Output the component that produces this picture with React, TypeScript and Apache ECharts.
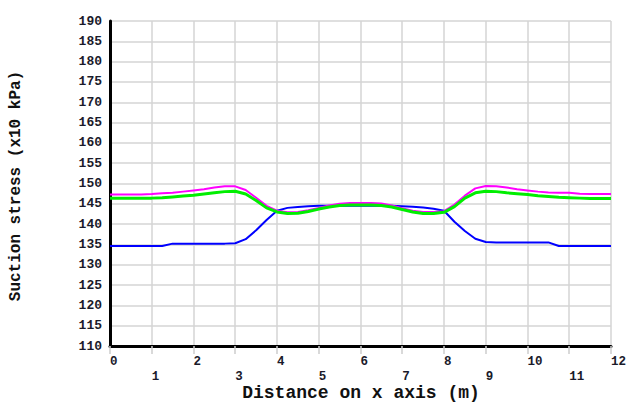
import React, { useEffect, useRef } from "react";
import * as echarts from "echarts";

const xs = [0, 0.25, 0.5, 0.75, 1, 1.25, 1.5, 1.75, 2, 2.25, 2.5, 2.75, 3, 3.25, 3.5, 3.75, 4, 4.25, 4.5, 4.75, 5, 5.25, 5.5, 5.75, 6, 6.25, 6.5, 6.75, 7, 7.25, 7.5, 7.75, 8, 8.25, 8.5, 8.75, 9, 9.25, 9.5, 9.75, 10, 10.25, 10.5, 10.75, 11, 11.25, 11.5, 11.75, 12];

const magentaVals = [147.3, 147.3, 147.3, 147.3, 147.4, 147.6, 147.7, 148.0, 148.3, 148.6, 149.0, 149.3, 149.3, 148.4, 146.5, 144.5, 143.3, 142.9, 143.0, 143.4, 144.0, 144.6, 145.0, 145.2, 145.2, 145.2, 145.1, 144.6, 143.9, 143.3, 143.0, 143.0, 143.2, 144.8, 147.0, 148.8, 149.4, 149.3, 149.0, 148.6, 148.3, 148.0, 147.8, 147.7, 147.7, 147.5, 147.4, 147.4, 147.4];

const greenVals = [146.4, 146.4, 146.4, 146.4, 146.4, 146.5, 146.7, 146.9, 147.1, 147.4, 147.7, 148.0, 148.1, 147.4, 145.8, 144.0, 143.0, 142.6, 142.7, 143.1, 143.7, 144.2, 144.6, 144.7, 144.7, 144.7, 144.6, 144.2, 143.6, 143.0, 142.6, 142.6, 142.9, 144.3, 146.4, 147.7, 148.1, 148.0, 147.7, 147.5, 147.3, 147.0, 146.8, 146.6, 146.5, 146.4, 146.3, 146.3, 146.3];

const blueVals = [134.6, 134.6, 134.6, 134.6, 134.6, 134.6, 135.2, 135.2, 135.2, 135.2, 135.2, 135.2, 135.3, 136.3, 138.5, 141.0, 143.3, 144.0, 144.2, 144.4, 144.5, 144.5, 144.5, 144.5, 144.5, 144.5, 144.5, 144.5, 144.4, 144.3, 144.1, 143.8, 143.3, 140.6, 138.3, 136.4, 135.6, 135.5, 135.5, 135.5, 135.5, 135.5, 135.5, 134.6, 134.6, 134.6, 134.6, 134.6, 134.6];

const xTitle = "Distance on x axis (m)";
const yTitle = "Suction stress (x10 kPa)";

const toPairs = (vals: number[]) => xs.map((x, i) => [x, vals[i]]);

export default function App() {
  const ref = useRef<HTMLDivElement>(null);
  useEffect(() => {
    if (!ref.current) return;
    const chart = echarts.init(ref.current, undefined, { renderer: "svg" });
    const labelColor = "#1a1a2a";
    chart.setOption({
      animation: false,
      backgroundColor: "#ffffff",
      grid: { left: 110, right: 15, top: 21, bottom: 56, containLabel: false },
      xAxis: {
        type: "value",
        min: 0,
        max: 12,
        interval: 1,
        axisLine: { show: true, onZero: false, lineStyle: { color: "#000", width: 3 } },
        axisTick: { show: true, length: 8, lineStyle: { color: "#cccccc", width: 1.5 } },
        splitLine: { show: true, lineStyle: { color: "#d4d4d4", width: 1.5 } },
        axisLabel: {
          align: "left",
          margin: 8,
          lineHeight: 15,
          color: labelColor,
          fontFamily: "Liberation Mono",
          fontWeight: "bold",
          fontSize: 12.5,
          showMinLabel: true,
          showMaxLabel: true,
          formatter: (v: number) => (Math.round(v) % 2 === 0 ? String(v) : "\n" + v),
        },
      },
      yAxis: {
        type: "value",
        min: 110,
        max: 190,
        interval: 5,
        axisLine: { show: true, onZero: false, lineStyle: { color: "#000", width: 3 } },
        axisTick: { show: false },
        splitLine: { show: true, lineStyle: { color: "#d4d4d4", width: 1.5 } },
        axisLabel: {
          margin: 8,
          color: labelColor,
          fontFamily: "Liberation Mono",
          fontWeight: "bold",
          fontSize: 13,
        },
      },
      graphic: [
        {
          type: "text",
          x: 361,
          y: 393,
          style: {
            text: xTitle,
            font: "bold 18px 'Liberation Mono'",
            fill: "#111",
            textAlign: "center",
            textVerticalAlign: "middle",
          },
        },
        {
          type: "text",
          x: 16,
          y: 186,
          rotation: Math.PI / 2,
          style: {
            text: yTitle,
            font: "bold 16px 'Liberation Mono'",
            fill: "#111",
            textAlign: "center",
            textVerticalAlign: "middle",
          },
        },
      ],
      series: [
        {
          type: "line",
          data: toPairs(blueVals),
          showSymbol: false,
          lineStyle: { color: "#0000ff", width: 2 },
          z: 3,
        },
        {
          type: "line",
          data: toPairs(magentaVals),
          showSymbol: false,
          lineStyle: { color: "#ff00ff", width: 2 },
          z: 4,
        },
        {
          type: "line",
          data: toPairs(greenVals),
          showSymbol: false,
          lineStyle: { color: "#00ee00", width: 3 },
          z: 5,
        },
      ],
    });
    return () => chart.dispose();
  }, []);
  return (
    <div
      ref={ref}
      style={{ position: "absolute", left: 0, top: 0, width: 629, height: 402 }}
    />
  );
}
